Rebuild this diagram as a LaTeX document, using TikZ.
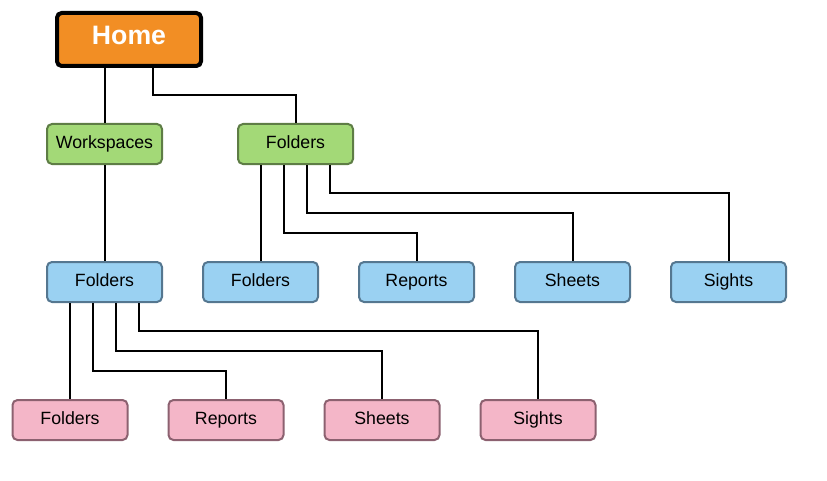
\documentclass[tikz,border=0pt]{standalone}
\usepackage{fontspec}
\setmainfont{Liberation Sans}
\usetikzlibrary{positioning}
\definecolor{homeorange}{HTML}{F28E24}
\definecolor{leafgreen}{HTML}{A3D977}
\definecolor{leafgreenline}{HTML}{5E7D45}
\definecolor{skyblue}{HTML}{9AD1F2}
\definecolor{skyblueline}{HTML}{557790}
\definecolor{rosepink}{HTML}{F4B6C8}
\definecolor{rosepinkline}{HTML}{8C6170}
\tikzstyle{box}=[draw,rounded corners=3.75pt,line width=1.5pt,minimum width=86.25pt,
  minimum height=30pt,inner sep=0pt,text height=9.5pt,text depth=3pt,
  font=\fontsize{13.3}{15}\selectfont]
\tikzstyle{home}=[draw=black,fill=homeorange,rounded corners=3.5pt,line width=3pt,
  minimum width=108pt,minimum height=39.75pt,inner sep=0pt,text height=14.3pt,text depth=7.5pt,
  text=white,font=\fontsize{20}{24}\selectfont\bfseries]
\tikzstyle{green}=[box,fill=leafgreen,draw=leafgreenline]
\tikzstyle{blue}=[box,fill=skyblue,draw=skyblueline]
\tikzstyle{pink}=[box,fill=rosepink,draw=rosepinkline]
\tikzstyle{link}=[line width=1.5pt]

\begin{document}
\begin{tikzpicture}[x=0.75pt, y=-0.75pt, on grid, node distance=103.5pt and 117pt]
  \useasboundingbox (0,0) rectangle (827,481);
  \node[home]                    (home) at (129,39.5) {Home};
  \node[green]                   (ws) at (104.5,144) {Workspaces};
  \node[green]                   (g2) at (295.5,144) {Folders};
  \node[blue, below=of ws]       (f1) {Folders};
  \node[blue, right=of f1]       (f2) {Folders};
  \node[blue, right=of f2]       (f3) {Reports};
  \node[blue, right=of f3]       (f4) {Sheets};
  \node[blue, right=of f4]       (f5) {Sights};
  \node[pink]                    (p1) at (70,420) {Folders};
  \node[pink, right=of p1]       (p2) {Reports};
  \node[pink, right=of p2]       (p3) {Sheets};
  \node[pink, right=of p3]       (p4) {Sights};

  \draw[link] (home.south -| ws.north) -- (ws.north);
  \draw[link] ([xshift=18pt]home.south) -- ++(0,27) -| (g2.north);
  \draw[link] (ws.south) -- (f1.north);

  \draw[link] (f2.north |- g2.south) -- (f2.north);
  \foreach \dx/\dy/\n in {-8.625pt/68/f3, 8.625pt/48/f4, 25.875pt/28/f5}
    \draw[link] ([xshift=\dx]g2.south) -- ++(0,\dy) -| (\n.north);

  \draw[link] (p1.north |- f1.south) -- (p1.north);
  \foreach \dx/\dy/\n in {-8.625pt/68/p2, 8.625pt/48/p3, 25.875pt/28/p4}
    \draw[link] ([xshift=\dx]f1.south) -- ++(0,\dy) -| (\n.north);
\end{tikzpicture}
\end{document}
